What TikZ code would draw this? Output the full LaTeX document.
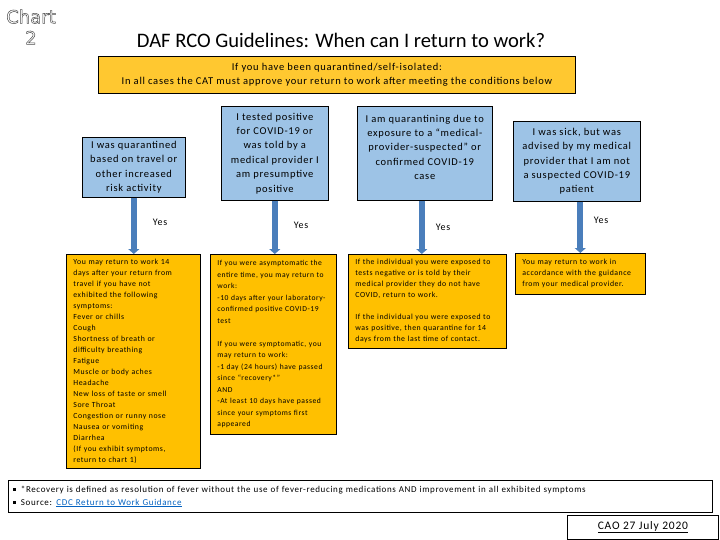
\documentclass[tikz,border=0pt]{standalone}
\usepackage{fontspec}
\setmainfont{Carlito}[LetterSpace=7]
\newfontfamily\titlefont{Carlito}
\newfontfamily\chartfont{DejaVu Sans}
\usetikzlibrary{arrows.meta}
\definecolor{boxblue}{HTML}{9DC3E6}
\definecolor{boxgold}{HTML}{FFC000}
\definecolor{bannergold}{HTML}{FFC830}
\definecolor{barblue}{HTML}{4A7EBB}
\definecolor{linkblue}{HTML}{0563C1}
\newcommand\outl[1]{\special{pdf:literal direct 1 Tr 0.5 w 0.3 G}#1\special{pdf:literal direct 0 Tr 0 G}}
\newcommand\sqb{\raisebox{1.5pt}{\rule{2.5pt}{2.5pt}}\hspace{5pt}}
\begin{document}
\begin{tikzpicture}[x=1pt,y=-1pt,
 question/.style={draw=black, line width=0.6pt, fill=boxblue, anchor=north west, align=center, font=\fontsize{10.5}{14.4}\selectfont, inner sep=0pt},
 answer/.style={draw=black, line width=0.8pt, fill=boxgold, anchor=north west, align=left, font=\fontsize{7.8}{11}\selectfont, inner xsep=7pt, inner ysep=0pt},
 yesarrow/.style={draw=barblue, line width=6pt, -{Triangle[width=11pt,length=5pt]}},
 yeslabel/.style={font=\fontsize{10}{12}\selectfont},
 framebox/.style={draw=black, line width=0.8pt, anchor=north west},
]
\useasboundingbox (0,0) rectangle (720,540);

% heading
\node[font=\chartfont\fontsize{18}{21}\selectfont, align=center] (chart) at (31,27) {\outl{Chart}\\\outl{2}};
\node[font=\titlefont\fontsize{20.6}{24}\selectfont] (title) at (341,40) {DAF RCO Guidelines: When can I return to work?};
\node[framebox, fill=bannergold, minimum width=477pt, minimum height=37pt, align=center, font=\fontsize{10.5}{14}\selectfont, inner sep=0pt] (banner) at (98,56)
 {If you have been quarantined/self-isolated:\\In all cases the CAT must approve your return to work after meeting the conditions below};

% questions
\node[question, minimum width=103pt, minimum height=60pt] (b1) at (82,137)
 {I was quarantined\\based on travel or\\other increased\\risk activity};
\node[question, minimum width=107pt, minimum height=94pt] (b2) at (221,106)
 {I tested positive\\for COVID-19 or\\was told by a\\medical provider I\\am presumptive\\positive};
\node[question, minimum width=135pt, minimum height=94pt] (b3) at (357,106)
 {I am quarantining due to\\exposure to a “medical-\\provider-suspected” or\\confirmed COVID-19\\case\\[-2.4pt]};
\node[question, minimum width=127pt, minimum height=80pt] (b4) at (513,121)
 {I was sick, but was\\advised by my medical\\provider that I am not\\a suspected COVID-19\\patient};

% answers
\node[answer, text width=120pt, minimum height=214pt] (y1) at (66,254)
 {You may return to work 14\\days after your return from\\travel if you have not\\exhibited the following\\symptoms:\\Fever or chills\\Cough\\Shortness of breath or\\difficulty breathing\\Fatigue\\Muscle or body aches\\Headache\\New loss of taste or smell\\Sore Throat\\Congestion or runny nose\\Nausea or vomiting\\Diarrhea\\(If you exhibit symptoms,\\return to chart 1)};
\node[answer, text width=112pt, minimum height=180pt, font=\fontsize{7.6}{11.5}\selectfont] (y2) at (210,254)
 {If you were asymptomatic the\\entire time, you may return to\\work:\\-10 days after your laboratory-\\confirmed positive COVID-19\\test\\[11.5pt]If you were symptomatic, you\\may return to work:\\-1 day (24 hours) have passed\\since “recovery*”\\AND\\-At least 10 days have passed\\since your symptoms first\\appeared};
\node[answer, text width=144pt, minimum height=94pt, font=\fontsize{7.8}{11}\selectfont] (y3) at (348,254)
 {If the individual you were exposed to\\tests negative or is told by their\\medical provider they do not have\\COVID, return to work.\\[11pt]If the individual you were exposed to\\was positive, then quarantine for 14\\days from the last time of contact.};
\node[answer, text width=116pt, minimum height=41pt] (y4) at (515,253)
 {You may return to work in\\accordance with the guidance\\from your medical provider.};

% connectors
\draw[yesarrow] (b1.south) -- (b1.south |- y1.north);
\draw[yesarrow] (b2.south) -- (b2.south |- y2.north);
\draw[yesarrow] ([xshift=-3pt]b3.south) -- ([xshift=-3pt]b3.south |- y3.north);
\draw[yesarrow] ([xshift=3.5pt]b4.south) -- ([xshift=3.5pt]b4.south |- y4.north);
\node[yeslabel] (yes1) at (160,222) {Yes};
\node[yeslabel] (yes2) at (301,225) {Yes};
\node[yeslabel] (yes3) at (443,227) {Yes};
\node[yeslabel] (yes4) at (601,220) {Yes};

% footnotes
\node[framebox, minimum width=704pt, minimum height=32pt, text width=694pt, inner xsep=5pt, inner ysep=0pt, align=left, font=\fontsize{9}{13}\selectfont] (notes) at (8,480)
 {\sqb*Recovery is defined as resolution of fever without the use of fever-reducing medications AND improvement in all exhibited symptoms\\
  \sqb Source: {\color{linkblue}\underline{CDC Return to Work Guidance}}};
\node[framebox, minimum width=151pt, minimum height=23.5pt, font=\fontsize{11.5}{13}\selectfont] (cao) at (567,515) {\underline{CAO 27 July 2020}};
\end{tikzpicture}
\end{document}
